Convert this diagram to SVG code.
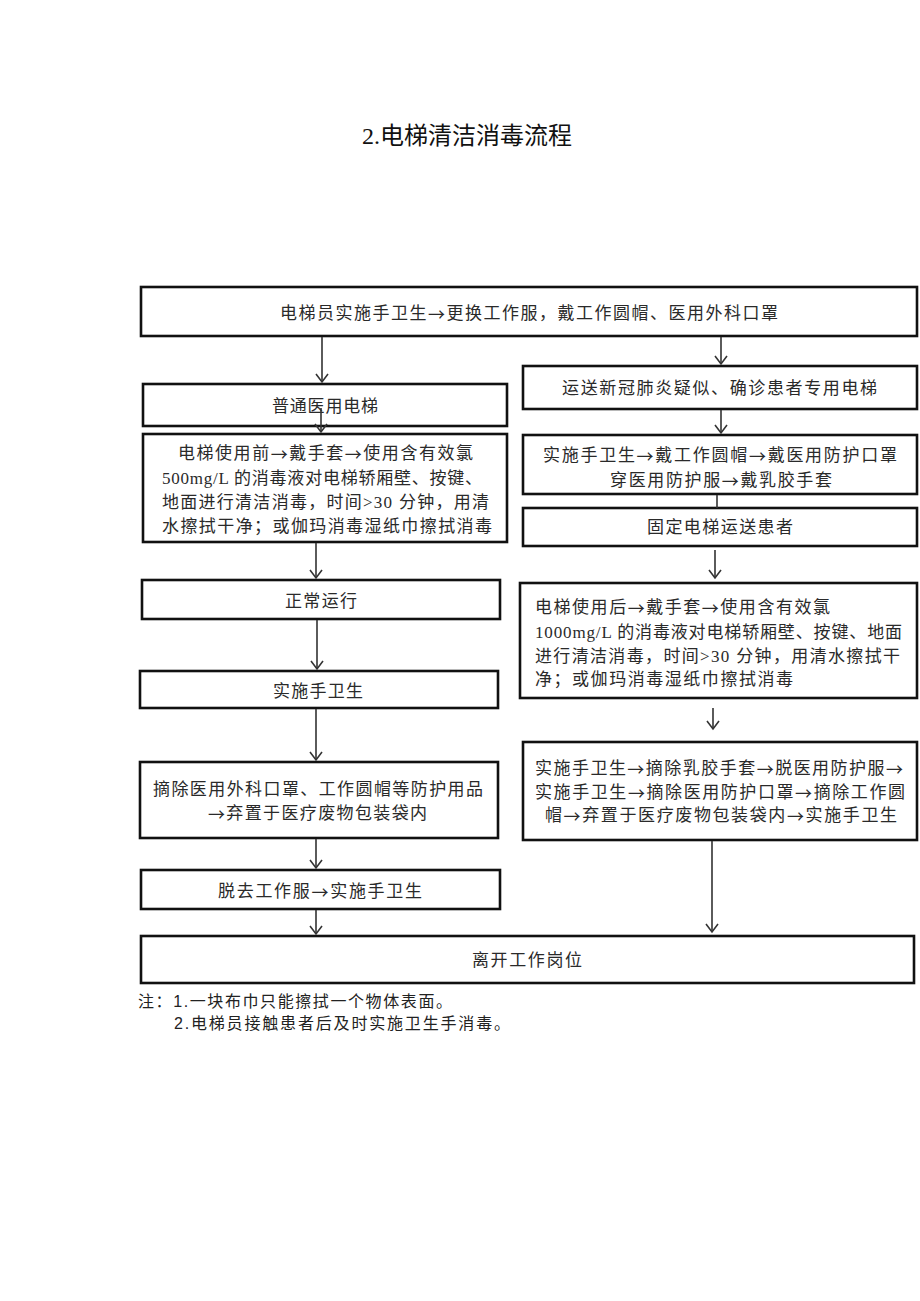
<svg xmlns="http://www.w3.org/2000/svg" width="920" height="1301" viewBox="0 0 920 1301">
<defs>
<marker id="arr" viewBox="-1 -7 11 14" refX="8" refY="0" markerWidth="11" markerHeight="14" markerUnits="userSpaceOnUse" orient="auto">
<path d="M0,-6 L8,0 L0,6" fill="none" stroke="#333" stroke-width="1.6"/>
</marker>
<style>
.box{fill:#fff;stroke:#111;stroke-width:2.6}
.t{font-family:"Liberation Serif","Noto Sans CJK SC",serif;font-size:17px;fill:#2a2a2a;dominant-baseline:central}
.a{font-family:"Noto Sans CJK SC",sans-serif}
.ln{stroke:#333;stroke-width:1.6;fill:none}
.title{font-family:"Liberation Serif","Noto Sans CJK SC",serif;font-size:24px;fill:#111;text-anchor:middle;dominant-baseline:central}
.note{font-family:"Liberation Sans","Noto Sans CJK SC",sans-serif;font-size:16px;fill:#222;dominant-baseline:central}
</style>
</defs>
<rect width="920" height="1301" fill="#fff"/>
<text class="title" x="467" y="136" textLength="210" lengthAdjust="spacing">2.电梯清洁消毒流程</text>

<g id="n-top"><rect class="box" x="141" y="287" width="776" height="49"/>
<text class="t" x="280" y="313" textLength="498" lengthAdjust="spacing">电梯员实施手卫生<tspan class="a">→</tspan>更换工作服，戴工作圆帽、医用外科口罩</text></g>

<g id="n-normal"><rect class="box" x="143" y="384" width="364" height="42"/>
<text class="t" x="272" y="406" textLength="106" lengthAdjust="spacing">普通医用电梯</text></g>

<g id="n-before"><rect class="box" x="143" y="434" width="364" height="108"/>
<text class="t" x="178" y="453" textLength="295" lengthAdjust="spacing">电梯使用前<tspan class="a">→</tspan>戴手套<tspan class="a">→</tspan>使用含有效氯</text>
<text class="t" x="162" y="478" textLength="320" lengthAdjust="spacing">500mg/L 的消毒液对电梯轿厢壁、按键、</text>
<text class="t" x="162" y="502" textLength="327" lengthAdjust="spacing">地面进行清洁消毒，时间&gt;30 分钟，用清</text>
<text class="t" x="162" y="526" textLength="330" lengthAdjust="spacing">水擦拭干净；或伽玛消毒湿纸巾擦拭消毒</text></g>

<g id="n-run"><rect class="box" x="142" y="580" width="358" height="39"/>
<text class="t" x="285" y="601" textLength="72" lengthAdjust="spacing">正常运行</text></g>

<g id="n-hand1"><rect class="box" x="140" y="671" width="358" height="37"/>
<text class="t" x="273" y="691" textLength="90" lengthAdjust="spacing">实施手卫生</text></g>

<g id="n-remove1"><rect class="box" x="140" y="762" width="358" height="76"/>
<text class="t" x="153" y="789" textLength="330" lengthAdjust="spacing">摘除医用外科口罩、工作圆帽等防护用品</text>
<text class="t" x="208" y="813" textLength="219" lengthAdjust="spacing"><tspan class="a">→</tspan>弃置于医疗废物包装袋内</text></g>

<g id="n-undress"><rect class="box" x="141" y="870" width="359" height="39"/>
<text class="t" x="218" y="891" textLength="204" lengthAdjust="spacing">脱去工作服<tspan class="a">→</tspan>实施手卫生</text></g>

<g id="n-leave"><rect class="box" x="141" y="936" width="773" height="47"/>
<text class="t" x="472" y="960" textLength="110" lengthAdjust="spacing">离开工作岗位</text></g>

<g id="n-covid"><rect class="box" x="523" y="366" width="394" height="43"/>
<text class="t" x="562" y="388" textLength="315" lengthAdjust="spacing">运送新冠肺炎疑似、确诊患者专用电梯</text></g>

<g id="n-ppe"><rect class="box" x="523" y="435" width="394" height="59"/>
<text class="t" x="543" y="455" textLength="354" lengthAdjust="spacing">实施手卫生<tspan class="a">→</tspan>戴工作圆帽<tspan class="a">→</tspan>戴医用防护口罩</text>
<text class="t" x="610" y="480" textLength="222" lengthAdjust="spacing">穿医用防护服<tspan class="a">→</tspan>戴乳胶手套</text></g>

<g id="n-fixed"><rect class="box" x="523" y="508" width="394" height="38"/>
<text class="t" x="647" y="527" textLength="146" lengthAdjust="spacing">固定电梯运送患者</text></g>

<g id="n-after"><rect class="box" x="520" y="583" width="397" height="115"/>
<text class="t" x="535" y="607" textLength="295" lengthAdjust="spacing">电梯使用后<tspan class="a">→</tspan>戴手套<tspan class="a">→</tspan>使用含有效氯</text>
<text class="t" x="535" y="632" textLength="367" lengthAdjust="spacing">1000mg/L 的消毒液对电梯轿厢壁、按键、地面</text>
<text class="t" x="535" y="656" textLength="365" lengthAdjust="spacing">进行清洁消毒，时间&gt;30 分钟，用清水擦拭干</text>
<text class="t" x="535" y="679" textLength="258" lengthAdjust="spacing">净；或伽玛消毒湿纸巾擦拭消毒</text></g>

<g id="n-remove2"><rect class="box" x="523" y="742" width="394" height="98"/>
<text class="t" x="535" y="768" textLength="368" lengthAdjust="spacing">实施手卫生<tspan class="a">→</tspan>摘除乳胶手套<tspan class="a">→</tspan>脱医用防护服<tspan class="a">→</tspan></text>
<text class="t" x="535" y="792" textLength="370" lengthAdjust="spacing">实施手卫生<tspan class="a">→</tspan>摘除医用防护口罩<tspan class="a">→</tspan>摘除工作圆</text>
<text class="t" x="545" y="815" textLength="352" lengthAdjust="spacing">帽<tspan class="a">→</tspan>弃置于医疗废物包装袋内<tspan class="a">→</tspan>实施手卫生</text></g>

<g id="connectors">
<line class="ln" x1="322" y1="337" x2="322" y2="382" marker-end="url(#arr)"/>
<line class="ln" x1="721" y1="337" x2="721" y2="364" marker-end="url(#arr)"/>
<line class="ln" x1="321" y1="408" x2="321" y2="432" marker-end="url(#arr)"/>
<line class="ln" x1="316" y1="543" x2="316" y2="578" marker-end="url(#arr)"/>
<line class="ln" x1="317" y1="620" x2="317" y2="669" marker-end="url(#arr)"/>
<line class="ln" x1="316" y1="709" x2="316" y2="760" marker-end="url(#arr)"/>
<line class="ln" x1="316" y1="839" x2="316" y2="868" marker-end="url(#arr)"/>
<line class="ln" x1="316" y1="910" x2="316" y2="934" marker-end="url(#arr)"/>
<line class="ln" x1="721" y1="410" x2="721" y2="433" marker-end="url(#arr)"/>
<line class="ln" x1="717" y1="495" x2="717" y2="508"/>
<line class="ln" x1="715" y1="550" x2="715" y2="578" marker-end="url(#arr)"/>
<line class="ln" x1="713" y1="708" x2="713" y2="729" marker-end="url(#arr)"/>
<line class="ln" x1="712" y1="841" x2="712" y2="932" marker-end="url(#arr)"/>
</g>

<text class="note" x="138" y="1001" textLength="314" lengthAdjust="spacing">注：1.一块布巾只能擦拭一个物体表面。</text>
<text class="note" x="174" y="1023" textLength="336" lengthAdjust="spacing">2.电梯员接触患者后及时实施卫生手消毒。</text>
</svg>
